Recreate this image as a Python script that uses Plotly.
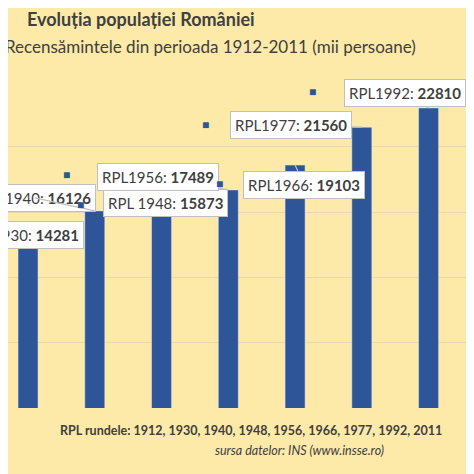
import plotly.graph_objects as go

# recensaminte (RPL) si populatia in mii persoane
years = ["1912", "1930", "1940", "1948", "1956", "1966", "1977", "1992", "2011"]
population = [12768, 14281, 16126, 15873, 17489, 19103, 21560, 22810, 20122]
label_names = ["RPL1912", "RPL1930", "RPL1940", "RPL 1948", "RPL1956",
               "RPL1966", "RPL1977", "RPL1992", "RPL2011"]

BLUE = "#2e5597"
xpos = list(range(-1, len(years) - 1))

fig = go.Figure()
fig.add_trace(go.Bar(x=xpos, y=population, width=0.3, marker_color=BLUE,
                     hoverinfo="skip"))

# callout offsets (px) of the label box from bar top, and of the legend key square
box_off = [(19, 115), (-5, -4), (-60, -13), (4, -12), (-70, -13),
           (9, 20), (-71, -2), (-24, -15), (27, -15)]
key_off = [None, None, (-14, -6), None, (-162, -15),
           (-76, 18), (-156, -3), (-116, -16), (-44, -15)]

for i, (x, v) in enumerate(zip(xpos, population)):
    ax, ay = box_off[i]
    fig.add_annotation(x=x, y=v, ax=ax, ay=ay, axref="pixel", ayref="pixel",
                       text=f"{label_names[i]}: <b>{v}</b>",
                       showarrow=True, arrowhead=0, arrowwidth=1.2,
                       arrowcolor="#bfbfbf",
                       bgcolor="white", bordercolor="#bfbfbf", borderwidth=1,
                       borderpad=4, font=dict(size=15, color="#404040", family="Lato"))
    if key_off[i]:
        kx, ky = key_off[i]
        fig.add_annotation(x=x, y=v, ax=kx, ay=ky, axref="pixel", ayref="pixel",
                           text="■", showarrow=True, arrowcolor="rgba(0,0,0,0)",
                           font=dict(size=12, color=BLUE))

fig.add_annotation(xref="paper", yref="paper", x=0.036, y=1.0, yshift=62,
                   xanchor="left", yanchor="middle", showarrow=False,
                   text="<b>Evoluția populației României</b>",
                   font=dict(size=18, color="#404040", family="Lato"))
fig.add_annotation(xref="paper", yref="paper", x=0.865, y=1.0, yshift=35,
                   xanchor="right", yanchor="middle", showarrow=False,
                   text="Recensămintele din perioada 1912-2011 (mii persoane)",
                   font=dict(size=17, color="#404040", family="Lato"))
fig.add_annotation(xref="paper", yref="paper", x=0.105, y=0, yshift=-22,
                   xanchor="left", yanchor="middle", showarrow=False,
                   text="<b>RPL rundele: " + ", ".join(years) + "</b>",
                   font=dict(size=12.5, color="#404040", family="Lato"))
fig.add_annotation(xref="paper", yref="paper", x=0.615, y=0, yshift=-42,
                   xanchor="center", yanchor="middle", showarrow=False,
                   text="<i>sursa datelor: INS (www.insse.ro)</i>",
                   font=dict(size=12.5, color="#404040", family="Lato"))

fig.update_layout(
    width=474, height=474,
    margin=dict(l=0, r=0, t=73, b=74),
    paper_bgcolor="#fde9a8", plot_bgcolor="#fde9a8",
    showlegend=False,
    bargap=0.7,
    xaxis=dict(range=[-0.3, 6.8], showticklabels=False, showgrid=False,
               zeroline=False),
    yaxis=dict(range=[3330, 24560], tick0=3330, dtick=4240, showticklabels=False,
               gridcolor="#e6d9b0", zeroline=False, showline=False),
)

fig.write_html("out.html")
